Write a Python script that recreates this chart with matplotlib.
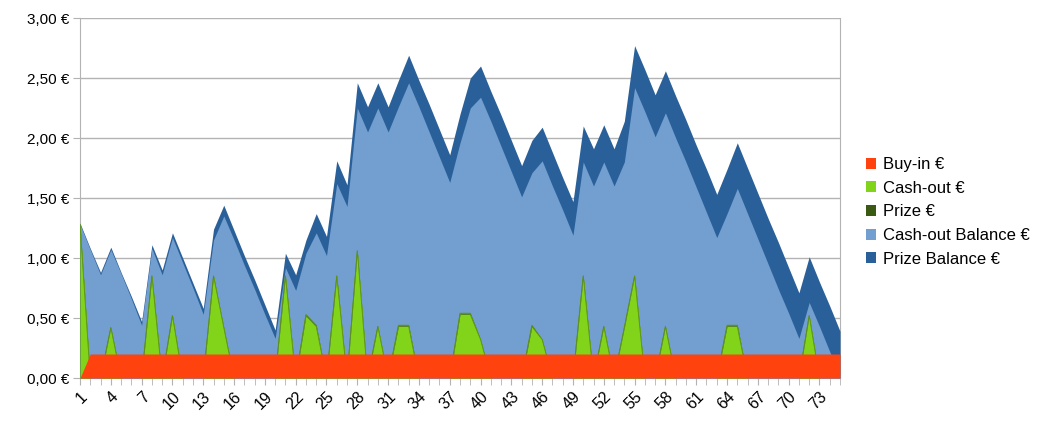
import numpy as np
import matplotlib.pyplot as plt
from matplotlib.patches import Patch
from matplotlib.ticker import FuncFormatter, MultipleLocator

plt.rcParams['font.family'] = ['Liberation Sans', 'DejaVu Sans']

days = list(range(1, 76))

buy_in = [0.0] + [0.2] * 74

cash_out = [1.28, 0, 0, 0.42, 0, 0, 0, 0.85, 0, 0.52,
            0, 0, 0, 0.85, 0.42, 0, 0, 0, 0, 0,
            0.85, 0, 0.52, 0.43, 0, 0.85, 0, 1.06, 0, 0.43,
            0, 0.43, 0.43, 0, 0, 0, 0, 0.53, 0.53, 0.32,
            0, 0, 0, 0, 0.43, 0.32, 0, 0, 0, 0.85,
            0, 0.43, 0, 0.42, 0.85, 0, 0, 0.43, 0, 0,
            0, 0, 0, 0.43, 0.43, 0, 0, 0, 0, 0,
            0, 0.52, 0, 0, 0]

prize = [1.28, 0, 0, 0.42, 0, 0, 0, 0.85, 0, 0.52,
         0, 0, 0, 0.85, 0.42, 0, 0, 0, 0, 0,
         0.85, 0, 0.53, 0.44, 0, 0.85, 0, 1.06, 0, 0.43,
         0, 0.44, 0.44, 0, 0, 0, 0, 0.54, 0.54, 0.32,
         0, 0, 0, 0, 0.44, 0.32, 0, 0, 0, 0.85,
         0, 0.43, 0, 0.42, 0.85, 0, 0, 0.43, 0, 0,
         0, 0, 0, 0.44, 0.44, 0, 0, 0, 0, 0,
         0, 0.52, 0, 0, 0]

cash_out_balance = [1.28, 1.07, 0.86, 1.07, 0.87, 0.66, 0.44, 1.08, 0.86, 1.17,
                    0.96, 0.75, 0.53, 1.15, 1.35, 1.15, 0.94, 0.74, 0.53, 0.33,
                    0.92, 0.73, 1.04, 1.21, 1.02, 1.62, 1.43, 2.25, 2.05, 2.25,
                    2.05, 2.26, 2.46, 2.26, 2.05, 1.84, 1.63, 1.96, 2.25, 2.34,
                    2.14, 1.93, 1.72, 1.51, 1.71, 1.81, 1.60, 1.40, 1.19, 1.80,
                    1.60, 1.80, 1.60, 1.80, 2.42, 2.22, 2.01, 2.21, 2.00, 1.80,
                    1.59, 1.38, 1.17, 1.37, 1.58, 1.37, 1.16, 0.95, 0.74, 0.54,
                    0.33, 0.63, 0.43, 0.22, 0.02]

prize_balance = [1.29, 1.08, 0.88, 1.09, 0.88, 0.68, 0.47, 1.11, 0.90, 1.21,
                 1.00, 0.79, 0.58, 1.24, 1.44, 1.23, 1.02, 0.82, 0.61, 0.40,
                 1.04, 0.86, 1.15, 1.37, 1.18, 1.81, 1.61, 2.46, 2.26, 2.46,
                 2.26, 2.48, 2.69, 2.48, 2.28, 2.07, 1.86, 2.20, 2.50, 2.60,
                 2.39, 2.19, 1.98, 1.77, 1.98, 2.09, 1.88, 1.67, 1.47, 2.10,
                 1.91, 2.11, 1.91, 2.14, 2.77, 2.57, 2.36, 2.56, 2.35, 2.15,
                 1.94, 1.74, 1.53, 1.74, 1.96, 1.75, 1.54, 1.33, 1.13, 0.92,
                 0.71, 1.01, 0.80, 0.60, 0.39]

names = ['Buy-in €', 'Cash-out €', 'Prize €', 'Cash-out Balance €', 'Prize Balance €']
colors = ['#ff420e', '#81d41a', '#3a5a14', '#729fcf', '#2a6099']
series = [buy_in, cash_out, prize, cash_out_balance, prize_balance]

fig = plt.figure(figsize=(10.46, 4.25), dpi=100)
ax = fig.add_axes([80 / 1046, 47 / 425, 760 / 1046, 360 / 425])

# first series sits in front, like the spreadsheet chart
for k, (vals, col) in enumerate(zip(series, colors)):
    z = 10 - k
    ax.fill_between(days, 0, vals, color=col, linewidth=0, zorder=z)
    if k in (1, 2):
        ax.plot(days, vals, color='#5c8f1a', linewidth=0.6, zorder=z)

ax.set_xlim(1, 75)
ax.set_ylim(0, 3)
ax.yaxis.set_major_locator(MultipleLocator(0.5))
ax.yaxis.set_major_formatter(FuncFormatter(lambda v, p: f"{v:.2f} €".replace('.', ',')))
ax.grid(axis='y', color='#b3b3b3', linewidth=1, zorder=0)
ax.set_axisbelow(True)

ax.set_xticks(days[::3])
ax.set_xticklabels([str(d) for d in days[::3]], rotation=45, ha='right', va='top',
                   rotation_mode='anchor')
ax.set_xticks(days, minor=True)
ax.tick_params(axis='x', which='both', length=5, color='#b3b3b3', labelsize=11.5, pad=3)
ax.tick_params(axis='y', length=5, color='#b3b3b3', labelsize=11, pad=3)

for s in ['left', 'bottom', 'right']:
    ax.spines[s].set_color('#b3b3b3')
ax.spines['top'].set_visible(False)

handles = [Patch(facecolor=c, edgecolor='none') for c in colors]
fig.legend(handles, names, loc='upper left', bbox_to_anchor=(851 / 1046, 1 - 142 / 425),
           frameon=False, fontsize=12, handlelength=0.62, handleheight=0.62,
           handletextpad=0.42, labelspacing=0.52)

fig.savefig('out.png', dpi=100)
